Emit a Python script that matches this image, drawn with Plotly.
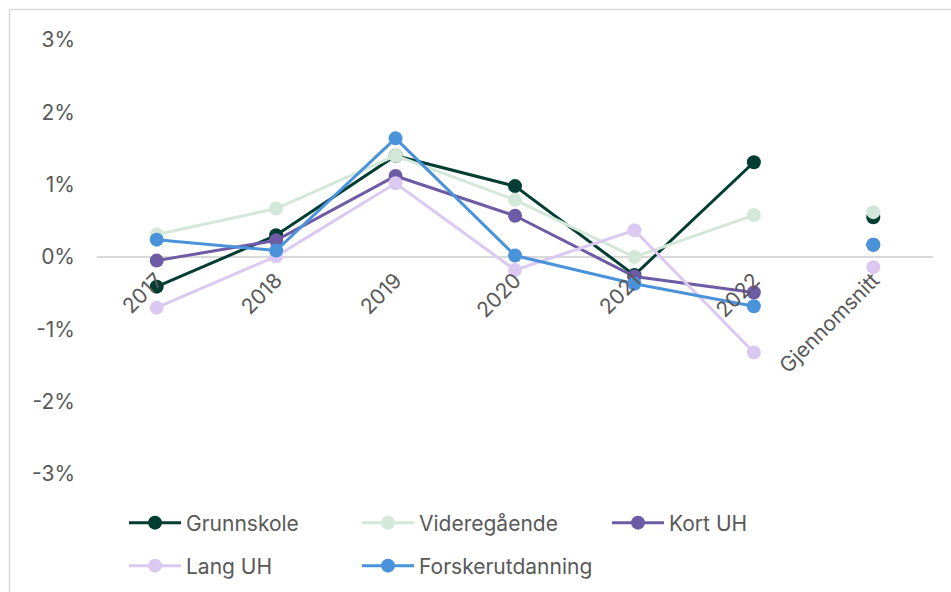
import plotly.graph_objects as go

# Year-on-year change (%) by education level
years = ["2017", "2018", "2019", "2020", "2021", "2022"]
avg_label = "Gjennomsnitt"

series_names = ["Grunnskole", "Videregående", "Kort UH", "Lang UH", "Forskerutdanning"]
grunnskole = [-0.41, 0.30, 1.40, 0.98, -0.25, 1.31]
videregaaende = [0.31, 0.67, 1.40, 0.79, 0.00, 0.58]
kort_uh = [-0.05, 0.23, 1.12, 0.57, -0.27, -0.49]
lang_uh = [-0.70, 0.01, 1.02, -0.18, 0.37, -1.32]
forsker = [0.24, 0.09, 1.64, 0.02, -0.37, -0.68]
averages = [0.55, 0.62, 0.17, -0.14, 0.17]

y_ticks = [-3, -2, -1, 0, 1, 2, 3]
y_ticktext = ["-3%", "-2%", "-1%", "0%", "1%", "2%", "3%"]

colors = ["#013D33", "#D4E8DA", "#6E5BA5", "#DCC9F1", "#4A93DB"]
values = [grunnskole, videregaaende, kort_uh, lang_uh, forsker]

FONT = "Inter, 'Open Sans', sans-serif"
TEXT = "#595959"
FS = 21

W, H = 951, 592
ml, mr, mt, mb = 97, 18, 40, 118
pw, ph = W - ml - mr, H - mt - mb


def px_to_paper_x(px):
    return (px - ml) / pw


def px_to_paper_y(py):
    return (H - mb - py) / ph


fig = go.Figure()

# legend slots: (left px, centre px) for each entry
legend_slots = [(124, 523), (357, 523), (607, 523), (124, 566), (357, 566)]
legend_names = ["legend", "legend2", "legend3", "legend4", "legend5"]

for i, (name, vals, col) in enumerate(zip(series_names, values, colors)):
    fig.add_trace(go.Scatter(
        x=years, y=vals, name=name, mode="lines+markers",
        line=dict(color=col, width=3),
        marker=dict(color=col, size=14),
        legend=legend_names[i],
        hoverinfo="skip",
    ))
for i, (name, col) in enumerate(zip(series_names, colors)):
    fig.add_trace(go.Scatter(
        x=[avg_label], y=[averages[i]], name=name, mode="markers",
        marker=dict(color=col, size=14), showlegend=False,
        hoverinfo="skip",
    ))

layout_legends = {}
for (lx, ly), ln in zip(legend_slots, legend_names):
    layout_legends[ln] = dict(
        x=px_to_paper_x(lx), y=px_to_paper_y(ly),
        xanchor="left", yanchor="middle",
        orientation="h", itemwidth=52,
        font=dict(family=FONT, size=FS, color=TEXT),
        bgcolor="rgba(0,0,0,0)",
    )

fig.update_layout(
    width=W, height=H,
    margin=dict(l=ml, r=mr, t=mt, b=mb, autoexpand=False),
    paper_bgcolor="white", plot_bgcolor="white",
    font=dict(family=FONT, size=FS, color=TEXT),
    **layout_legends,
    xaxis=dict(
        categoryorder="array", categoryarray=years + [avg_label],
        range=[-0.5, 6.5],
        anchor="free", position=0.5,
        showgrid=False, showline=False, zeroline=False,
        tickangle=-45, ticks="",
        tickfont=dict(family=FONT, size=FS, color=TEXT),
        ticklabelstandoff=6,
    ),
    yaxis=dict(
        range=[-3, 3], tickvals=y_ticks, ticktext=y_ticktext,
        showgrid=False, showline=False,
        zeroline=True, zerolinecolor="#D9D9D9", zerolinewidth=2,
        tickfont=dict(family=FONT, size=FS, color=TEXT),
        ticklabelstandoff=21,
    ),
    shapes=[dict(
        type="rect", xref="paper", yref="paper",
        x0=px_to_paper_x(9.5), x1=px_to_paper_x(W + 20),
        y0=px_to_paper_y(H + 20), y1=px_to_paper_y(9.5),
        line=dict(color="#D9D9D9", width=1.5), layer="below",
    )],
)

fig.write_html("out.html")
